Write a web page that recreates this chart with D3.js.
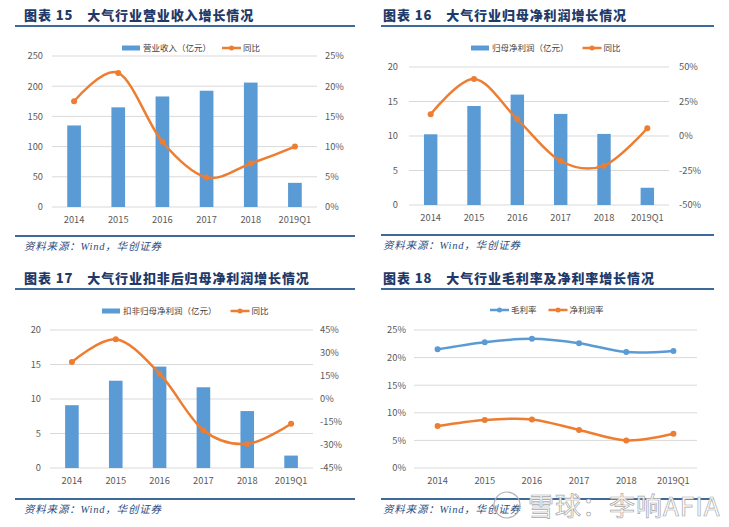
<!DOCTYPE html>
<html><head><meta charset="utf-8">
<script src="https://cdn.jsdelivr.net/npm/d3@7"></script>
<style>
body{margin:0;background:#fff;}
svg{display:block;font-family:"Noto Sans CJK SC","Noto Sans",sans-serif;}
</style></head><body>
<svg id="c" width="729" height="527"></svg>
<script>
const categories = ["2014","2015","2016","2017","2018","2019Q1"];

// 图表15
const revenue = [135, 165, 183, 192.5, 206, 40];
const revenueYoY = [17.5, 22.2, 10.8, 4.9, 7.2, 10.0];
// 图表16
const netProfit = [10.25, 14.35, 16.0, 13.2, 10.3, 2.5];
const netProfitYoY = [15.7, 41.3, 12.1, -18.1, -21.5, 5.6];
// 图表17
const deductedProfit = [9.1, 12.65, 14.7, 11.7, 8.25, 1.8];
const deductedProfitYoY = [24.1, 38.9, 16.5, -20.4, -29.3, -16.1];
// 图表18
const grossMargin = [21.5, 22.8, 23.4, 22.6, 21.0, 21.2];
const netMargin = [7.6, 8.7, 8.8, 6.9, 5.0, 6.2];

const titles = ["图表 15", "图表 16", "图表 17", "图表 18"];
const subtitles = ["大气行业营业收入增长情况","大气行业归母净利润增长情况","大气行业扣非后归母净利润增长情况","大气行业毛利率及净利率增长情况"];
const sourceText = "资料来源：Wind，华创证券";

const leftTicks1 = [0,50,100,150,200,250];
const rightTicks1 = [0,5,10,15,20,25];
const leftTicks2 = [0,5,10,15,20];
const rightTicks2 = [-50,-25,0,25,50];
const leftTicks3 = [0,5,10,15,20];
const rightTicks3 = [-45,-30,-15,0,15,30,45];
const leftTicks4 = [0,5,10,15,20,25];

const BLUE = "#5B9BD5", ORANGE = "#ED7D31", GRID = "#D9D9D9", TXT = "#595959", NAVY = "#1F3A68", RULE = "#3D6A9B";

const svg = d3.select("#c");

function frame(p){
  const g = svg.append("g");
  const t = g.append("text").attr("x", p.tx).attr("y", p.ty).attr("fill", NAVY)
    .attr("font-size", 13).attr("font-weight", 900).style("letter-spacing","0.9px");
  t.append("tspan").text(p.title);
  t.append("tspan").attr("dx", 14).text(p.subtitle);
  g.append("line").attr("x1", p.lx1).attr("x2", p.lx2).attr("y1", p.ty+6).attr("y2", p.ty+6)
    .attr("stroke", RULE).attr("stroke-width", 2);
  g.append("line").attr("x1", p.lx1).attr("x2", p.lx2).attr("y1", p.sy).attr("y2", p.sy)
    .attr("stroke", RULE).attr("stroke-width", 2);
  g.append("text").attr("x", p.tx).attr("y", p.sy+14).attr("fill", "#2B4C80")
    .attr("font-size", 10.5).attr("font-style","italic").style("letter-spacing","0.8px")
    .attr("font-family","'Liberation Serif','Noto Sans CJK SC',serif").text(sourceText);
}

function panel(p){
  frame(p);
  const g = svg.append("g");
  const x = d3.scaleBand().domain(categories).range([p.x0, p.x1]);
  const yL = d3.scaleLinear().domain(p.lDomain).range([p.yb, p.yt]);
  const yR = p.rDomain ? d3.scaleLinear().domain(p.rDomain).range([p.yb, p.yt]) : null;

  g.append("g").selectAll("line").data(p.lTicks).join("line")
    .attr("x1", p.x0).attr("x2", p.x1).attr("y1", d=>yL(d)).attr("y2", d=>yL(d))
    .attr("stroke", GRID).attr("stroke-width", 1);

  const la = g.append("g").attr("transform", `translate(${p.lLabelX},0)`)
    .call(d3.axisLeft(yL).tickValues(p.lTicks).tickSize(0).tickPadding(0).tickFormat(p.lFmt || (d=>d)));
  la.select(".domain").remove();
  la.selectAll("text").attr("fill", TXT).attr("font-size", 9.3).attr("font-family","'Noto Sans CJK SC',sans-serif");

  if (yR){
    const ra = g.append("g").attr("transform", `translate(${p.rLabelX},0)`)
      .call(d3.axisRight(yR).tickValues(p.rTicks).tickSize(0).tickPadding(0).tickFormat(d=>d+"%"));
    ra.select(".domain").remove();
    ra.selectAll("text").attr("fill", TXT).attr("font-size", 9.3).attr("font-family","'Noto Sans CJK SC',sans-serif");
  }

  const xa = g.append("g").attr("transform", `translate(0,${p.yb})`)
    .call(d3.axisBottom(x).tickSize(0).tickPadding(9));
  xa.select(".domain").remove();
  xa.selectAll("text").attr("fill", TXT).attr("font-size", 9.3).attr("font-family","'Noto Sans CJK SC',sans-serif");

  const bw = x.bandwidth()*0.31;
  if (p.bars){
    g.append("g").selectAll("rect").data(p.bars).join("rect")
      .attr("x", (d,i)=>x(categories[i]) + x.bandwidth()/2 - bw/2)
      .attr("width", bw).attr("y", d=>yL(d)).attr("height", d=>yL(0)-yL(d))
      .attr("fill", BLUE);
  }
  (p.lines||[]).forEach(ln=>{
    const ys = ln.axis === "r" ? yR : yL;
    const line = d3.line().x((d,i)=>x(categories[i])+x.bandwidth()/2).y(d=>ys(d))
      .curve(d3.curveCardinal.tension(0));
    g.append("path").datum(ln.values).attr("d", line).attr("fill","none")
      .attr("stroke", ln.color).attr("stroke-width", 2.5);
    g.append("g").selectAll("circle").data(ln.values).join("circle")
      .attr("cx",(d,i)=>x(categories[i])+x.bandwidth()/2).attr("cy", d=>ys(d))
      .attr("r", 3).attr("fill", ln.color);
  });

  const lg = g.append("g").attr("font-size", 8.5).attr("fill", "#404040");
  let cx = p.legX;
  p.legend.forEach(it=>{
    if (it.type === "bar"){
      lg.append("rect").attr("x", cx).attr("y", p.legY-2.5).attr("width", 18).attr("height", 5).attr("fill", it.color);
    } else {
      lg.append("line").attr("x1", cx).attr("x2", cx+19).attr("y1", p.legY).attr("y2", p.legY)
        .attr("stroke", it.color).attr("stroke-width", 2.5);
      lg.append("circle").attr("cx", cx+9.5).attr("cy", p.legY).attr("r", 2.5).attr("fill", it.color);
    }
    const tt = lg.append("text").attr("x", cx+21).attr("y", p.legY+3).text(it.label);
    cx += 21 + tt.node().getComputedTextLength() + it.gap;
  });
}

panel({title:titles[0], subtitle:subtitles[0], tx:24, ty:20, lx1:15, lx2:355, sy:236,
  x0:52, x1:317, yt:56, yb:207, lDomain:[0,250], lTicks:leftTicks1, lLabelX:43,
  rDomain:[0,25], rTicks:rightTicks1, rLabelX:325,
  bars:revenue, lines:[{values:revenueYoY, axis:"r", color:ORANGE}],
  legX:122, legY:48, legend:[{type:"bar",color:BLUE,label:"营业收入（亿元）",gap:11},{type:"line",color:ORANGE,label:"同比",gap:0}]});

panel({title:titles[1], subtitle:subtitles[1], tx:383, ty:20, lx1:381, lx2:714, sy:235,
  x0:409, x1:669, yt:67, yb:205, lDomain:[0,20], lTicks:leftTicks2, lLabelX:398,
  rDomain:[-50,50], rTicks:rightTicks2, rLabelX:679,
  bars:netProfit, lines:[{values:netProfitYoY, axis:"r", color:ORANGE}],
  legX:471, legY:48, legend:[{type:"bar",color:BLUE,label:"归母净利润（亿元）",gap:14},{type:"line",color:ORANGE,label:"同比",gap:0}]});

panel({title:titles[2], subtitle:subtitles[2], tx:24, ty:283, lx1:15, lx2:355, sy:499,
  x0:50, x1:313, yt:330, yb:468, lDomain:[0,20], lTicks:leftTicks3, lLabelX:41,
  rDomain:[-45,45], rTicks:rightTicks3, rLabelX:320,
  bars:deductedProfit, lines:[{values:deductedProfitYoY, axis:"r", color:ORANGE}],
  legX:102, legY:311, legend:[{type:"bar",color:BLUE,label:"扣非归母净利润（亿元）",gap:14},{type:"line",color:ORANGE,label:"同比",gap:0}]});

panel({title:titles[3], subtitle:subtitles[3], tx:383, ty:283, lx1:381, lx2:714, sy:499,
  x0:414, x1:697, yt:330, yb:468, lDomain:[0,25], lTicks:leftTicks4, lLabelX:406, lFmt:d=>d+"%",
  lines:[{values:grossMargin, axis:"l", color:BLUE},{values:netMargin, axis:"l", color:ORANGE}],
  legX:490, legY:310, legend:[{type:"line",color:BLUE,label:"毛利率",gap:12},{type:"line",color:ORANGE,label:"净利润率",gap:0}]});

// watermark
const wm = svg.append("g");
wm.append("circle").attr("cx", 507).attr("cy", 505).attr("r", 13).attr("fill","none").attr("stroke","#b0b0b0").attr("stroke-width",1.2);
wm.append("text").attr("x", 528).attr("y", 516).attr("font-size", 26).attr("fill", "#fff")
  .attr("stroke", "#a8a8a8").attr("stroke-width", 0.7).style("letter-spacing","1px")
  .attr("font-family","'Noto Sans CJK SC',sans-serif")
  .text("雪球：李响AFIA");
</script>
</body></html>
